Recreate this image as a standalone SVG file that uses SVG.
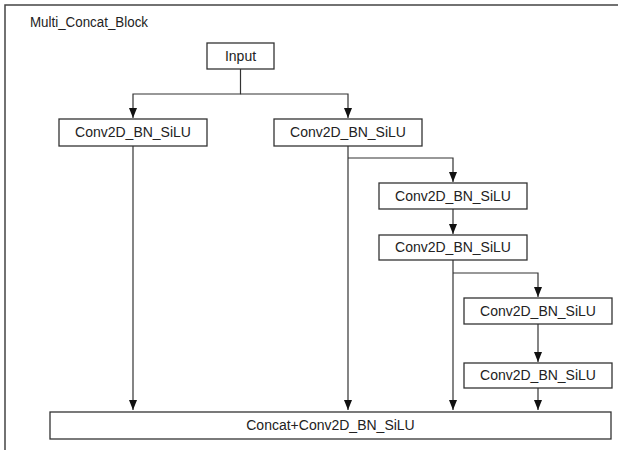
<svg xmlns="http://www.w3.org/2000/svg" width="618" height="450" viewBox="0 0 618 450">
<style>
.box{fill:#fff;stroke:#333;stroke-width:1.3}
.lbl{font-family:"Liberation Sans",Arial,sans-serif;font-size:14px;fill:#222;text-anchor:middle}
.edge{fill:none;stroke:#333;stroke-width:1.2}
</style>
<defs>
<marker id="ah" markerUnits="userSpaceOnUse" markerWidth="10" markerHeight="8" refX="10" refY="4" viewBox="0 0 10 8" orient="auto">
<path d="M0,0 L10,4 L0,8 z" fill="#111"/>
</marker>
</defs>
<rect x="0" y="0" width="618" height="450" fill="#fff"/>
<g id="frame">
<rect x="5" y="5" width="700" height="500" fill="none" stroke="#444" stroke-width="1.5"/>
<text x="30" y="27" font-family="Liberation Sans, Arial, sans-serif" font-size="14" fill="#222" textLength="118" lengthAdjust="spacingAndGlyphs">Multi_Concat_Block</text>
</g>
<g id="connectors">
<path class="edge" d="M240.5,69 V94 H133 V118" marker-end="url(#ah)"/>
<path class="edge" d="M240.5,94 H348 V118" marker-end="url(#ah)"/>
<path class="edge" d="M133,146 V410" marker-end="url(#ah)"/>
<path class="edge" d="M348,146 V410" marker-end="url(#ah)"/>
<path class="edge" d="M348,158 H453 V182" marker-end="url(#ah)"/>
<path class="edge" d="M453,209 V234" marker-end="url(#ah)"/>
<path class="edge" d="M453,260 V410" marker-end="url(#ah)"/>
<path class="edge" d="M453,273 H538 V297" marker-end="url(#ah)"/>
<path class="edge" d="M538,324 V362" marker-end="url(#ah)"/>
<path class="edge" d="M538,388 V410" marker-end="url(#ah)"/>
</g>
<g id="input">
<rect class="box" x="207" y="43" width="67" height="26"/>
<text class="lbl" x="240.5" y="61">Input</text>
</g>
<g id="conv1">
<rect class="box" x="59" y="119" width="148" height="27"/>
<text class="lbl" x="133" y="137">Conv2D_BN_SiLU</text>
</g>
<g id="conv2">
<rect class="box" x="274" y="119" width="148" height="27"/>
<text class="lbl" x="348" y="137">Conv2D_BN_SiLU</text>
</g>
<g id="conv3">
<rect class="box" x="379" y="183" width="148" height="26"/>
<text class="lbl" x="453" y="201">Conv2D_BN_SiLU</text>
</g>
<g id="conv4">
<rect class="box" x="379" y="235" width="148" height="25"/>
<text class="lbl" x="453" y="252">Conv2D_BN_SiLU</text>
</g>
<g id="conv5">
<rect class="box" x="464" y="298" width="148" height="26"/>
<text class="lbl" x="538" y="316">Conv2D_BN_SiLU</text>
</g>
<g id="conv6">
<rect class="box" x="464" y="363" width="148" height="25"/>
<text class="lbl" x="538" y="380">Conv2D_BN_SiLU</text>
</g>
<g id="concat">
<rect class="box" x="50" y="412" width="561" height="27"/>
<text class="lbl" x="330.5" y="430">Concat+Conv2D_BN_SiLU</text>
</g>
</svg>
